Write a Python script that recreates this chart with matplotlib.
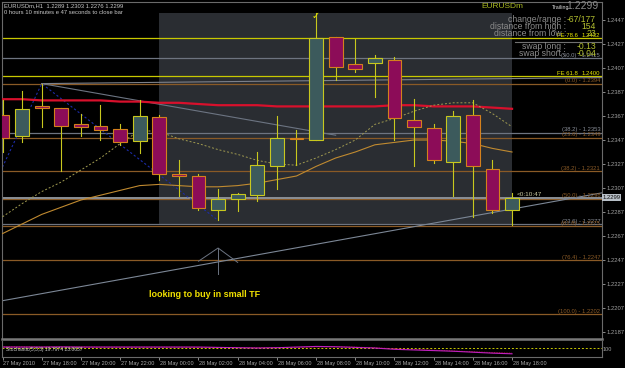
import numpy as np
import matplotlib.pyplot as plt
from matplotlib.patches import Rectangle
from matplotlib.transforms import blended_transform_factory

plt.rcParams['font.family'] = ['Liberation Sans', 'DejaVu Sans']

# hourly candles, 27 May 16:00 -> 28 May 18:00
opens  = [1.2368, 1.2350, 1.2375, 1.2374, 1.2360, 1.2359, 1.2356, 1.2346, 1.2366, 1.2319,
          1.2317, 1.2289, 1.2298, 1.2301, 1.2325, 1.2349, 1.2347, 1.2433, 1.2410, 1.2411,
          1.2414, 1.2364, 1.2357, 1.2329, 1.2368, 1.2323, 1.2289]
highs  = [1.2380, 1.2388, 1.2394, 1.2374, 1.2369, 1.2376, 1.2360, 1.2380, 1.2368, 1.2330,
          1.2319, 1.2306, 1.2303, 1.2337, 1.2367, 1.2355, 1.2453, 1.2433, 1.2431, 1.2418,
          1.2416, 1.2381, 1.2360, 1.2371, 1.2380, 1.2330, 1.2303]
lows   = [1.2337, 1.2345, 1.2358, 1.2321, 1.2350, 1.2347, 1.2343, 1.2336, 1.2314, 1.2300,
          1.2289, 1.2280, 1.2288, 1.2296, 1.2306, 1.2326, 1.2347, 1.2397, 1.2404, 1.2383,
          1.2347, 1.2325, 1.2328, 1.2300, 1.2283, 1.2286, 1.2276]
closes = [1.2349, 1.2373, 1.2374, 1.2359, 1.2358, 1.2355, 1.2345, 1.2367, 1.2319, 1.2317,
          1.2290, 1.2298, 1.2302, 1.2326, 1.2349, 1.2348, 1.2432, 1.2408, 1.2406, 1.2415,
          1.2365, 1.2358, 1.2330, 1.2367, 1.2325, 1.2289, 1.2299]

# moving averages
ma_red = [1.2381, 1.2381, 1.2380, 1.2380, 1.2380, 1.2380, 1.2379, 1.2379, 1.2378, 1.2378,
          1.2377, 1.2376, 1.2376, 1.2376, 1.2375, 1.2375, 1.2375, 1.2375, 1.2375, 1.2375,
          1.2376, 1.2376, 1.2375, 1.2375, 1.2375, 1.2374, 1.2373]
ma_fast = [1.2283, 1.2294, 1.2304, 1.2312, 1.2322, 1.2332, 1.2344, 1.2355, 1.2354, 1.2348,
           1.2344, 1.2339, 1.2335, 1.2330, 1.2327, 1.2326, 1.2332, 1.2339, 1.2347, 1.2360,
           1.2365, 1.2371, 1.2376, 1.2378, 1.2378, 1.2369, 1.2358]
ma_slow = [1.2269, 1.2277, 1.2285, 1.2291, 1.2297, 1.2301, 1.2305, 1.2309, 1.2310, 1.2309,
           1.2308, 1.2308, 1.2309, 1.2311, 1.2314, 1.2317, 1.2325, 1.2332, 1.2337, 1.2343,
           1.2345, 1.2347, 1.2347, 1.2346, 1.2344, 1.2340, 1.2337]

# day high / low box
box_x = [8, 26]
box_y = [1.2276, 1.2453]

# fibo / projection levels: price, colour, label
levels = [
    (1.2432, '#c8c800', None),
    (1.2415, '#6e7480', '(50.0) - 1.2415'),
    (1.2400, '#c8c800', None),
    (1.2394, '#8a5a26', '(0.0) - 1.2394'),
    (1.2353, '#6e7480', '(38.2) - 1.2353'),
    (1.2349, '#8a5a26', '(23.6) - 1.2349'),
    (1.2321, '#8a5a26', '(38.2) - 1.2321'),
    (1.2298, '#8a5a26', '(50.0) - 1.2298'),
    (1.2277, '#6e7480', '(23.6) - 1.2277'),
    (1.2275, '#8a5a26', '(61.8) - 1.2275'),
    (1.2247, '#8a5a26', '(76.4) - 1.2247'),
    (1.2202, '#8a5a26', '(100.0) - 1.2202'),
]
fe_levels = [(1.2432, 'FE 78.6', '1.2432'), (1.2400, 'FE 61.8', '1.2400')]

# trend lines (x in bars, y in price)
up_trend_x, up_trend_y = [-0.03, 30.6], [1.2213, 1.2303]
down_trend_x, down_trend_y = [2, 17], [1.2394, 1.2351]
flat_trend_x, flat_trend_y = [2, 30.6], [1.2394, 1.2399]
zigzag_x, zigzag_y = [-0.1, 2, 11], [1.2321, 1.2394, 1.2280]
marker_x, marker_y = [10.0, 11.0, 12.0], [1.2246, 1.2257, 1.2245]
marker_stem = [1.2257, 1.2235]

price_ticks = [1.2447, 1.2427, 1.2407, 1.2387, 1.2367, 1.2347, 1.2327, 1.2307,
               1.2287, 1.2267, 1.2247, 1.2227, 1.2207, 1.2187]
time_labels = ['27 May 2010', '27 May 18:00', '27 May 20:00', '27 May 22:00',
               '28 May 00:00', '28 May 02:00', '28 May 04:00', '28 May 06:00',
               '28 May 08:00', '28 May 10:00', '28 May 12:00', '28 May 14:00',
               '28 May 16:00', '28 May 18:00']

info_labels = ['change/range :', 'distance from high :', 'distance from low :',
               'swap long :', 'swap short :']
info_values = ['-67/177', '154', '23', '-0.13', '-0.04']

# indicator sub-window lines
stoch_main = [62, 62, 62, 63, 62, 62, 62, 62, 62, 62, 62, 60, 58, 56, 58, 62, 66, 64,
              60, 56, 48, 44, 40, 36, 30, 24, 20]
stoch_sig = [64, 64, 63, 63, 63, 62, 62, 62, 62, 62, 61, 60, 59, 58, 59, 61, 63, 64,
             62, 58, 52, 47, 43, 38, 33, 28, 24]

bg = '#000000'
fig = plt.figure(figsize=(6.25, 3.68), dpi=100, facecolor=bg)
ax = fig.add_axes([2 / 625, 1 - 339 / 368, 600 / 625, 337 / 368], facecolor=bg)
ax.set_xlim(-0.026, 30.59)
ax.set_ylim(1.218117, 1.2462)

# shaded box of the day range
ax.add_patch(Rectangle((box_x[0], box_y[0]), box_x[1] - box_x[0], box_y[1] - box_y[0],
                       facecolor='#2a2d32', edgecolor='none', zorder=0))

for price, col, lab in levels:
    ax.axhline(price, color=col, lw=0.9, zorder=1)
    if lab:
        ax.text(30.5, price + 0.00003, lab, color=col if col != '#6e7480' else '#8a8f99',
                fontsize=4.2, ha='right', va='bottom', zorder=6)
for price, name, val in fe_levels:
    ax.text(28.3, price + 0.00003, name, color='#e6e600', fontsize=4.3, ha='left', va='bottom', zorder=7)
    ax.text(30.5, price + 0.00003, val, color='#e6e600', fontsize=4.3, ha='right', va='bottom', zorder=7)

# bid line
ax.axhline(closes[-1], color='#8c9096', lw=1.4, zorder=1)

ax.plot(up_trend_x, up_trend_y, color='#7c8796', lw=0.8, zorder=2)
ax.plot(down_trend_x, down_trend_y, color='#6c7482', lw=0.8, zorder=2)
ax.plot(flat_trend_x, flat_trend_y, color='#7c808a', lw=0.8, zorder=2)
ax.plot(zigzag_x, zigzag_y, color='#1c2ca8', lw=0.8, ls=(0, (2, 2)), zorder=2)
ax.plot(marker_x, marker_y, color='#6c7482', lw=0.7, zorder=2)
ax.plot([marker_x[1]] * 2, marker_stem, color='#6c7482', lw=0.7, zorder=2)

bars = np.arange(len(closes))
ax.plot(bars, ma_red, color='#d8102c', lw=1.6, zorder=3)
ax.plot(bars, ma_fast, color='#a09a50', lw=0.7, ls=(0, (2, 2)), zorder=3)
ax.plot(bars, ma_slow, color='#c08a30', lw=0.8, zorder=3)

# candles
w = 0.7
for i in bars:
    o, h, l, c = opens[i], highs[i], lows[i], closes[i]
    bull = c >= o
    ax.plot([i, i], [l, h], color='#c8c81e', lw=0.8, zorder=4)
    face = '#3c5a5c' if bull else '#8c0c58'
    edge = '#c8c81e' if bull else '#d4801c'
    ax.add_patch(Rectangle((i - w / 2, min(o, c)), w, max(abs(c - o), 0.00003),
                           facecolor=face, edgecolor=edge, lw=0.8, zorder=5))

ax.text(16, 1.2450, '\u2713', color='#e6e600', fontsize=7, ha='center', va='center',
        family='DejaVu Sans', zorder=6)
ax.text(26.25, closes[-1] + 0.00002, '<0:10:47', color='#c8c8a0', fontsize=4.6,
        ha='left', va='bottom', zorder=6)
ax.text(7.5, 1.2218, 'looking to buy in small TF', color='#f0e000', fontsize=6.5,
        fontweight='bold', ha='left', va='center', zorder=6)

# header texts
fig.text(4 / 625, 1 - 6 / 368, 'EURUSDm,H1  1.2289 1.2303 1.2276 1.2299', color='#c8c8c8',
         fontsize=4.2, ha='left', va='center')
fig.text(4 / 625, 1 - 13 / 368, '0 hours 10 minutes e 47 seconds to close bar', color='#c8c8c8',
         fontsize=4.2, ha='left', va='center')
fig.text(502 / 625, 1 - 7 / 368, 'EURUSDm', color='#a8b820', fontsize=6, ha='center', va='center')
fig.text(552 / 625, 1 - 7 / 368, 'Trailing', color='#e0e0e0', fontsize=3.8, ha='left', va='center')
fig.text(598 / 625, 1 - 6 / 368, '1.2299', color='#8a8a8a', fontsize=7.5, ha='right', va='center')
info_y = [19.3, 26.5, 33.7, 46.3, 53.5]
for lab, val, yy in zip(info_labels, info_values, info_y):
    fig.text(566 / 625, 1 - yy / 368, lab, color='#8c8c8c', fontsize=6.2, ha='right', va='center')
    fig.text(596 / 625, 1 - yy / 368, val, color='#b4c030', fontsize=6.2, ha='right', va='center')
fig.add_artist(plt.Line2D([515 / 625, 601 / 625], [1 - 41.7 / 368] * 2, color='#707070', lw=0.8))

# price axis
ax.yaxis.tick_right()
ax.set_yticks(price_ticks)
ax.set_yticklabels(['%.4f' % p for p in price_ticks])
ax.tick_params(axis='y', right=True, left=False, length=2, width=0.6, pad=1,
               labelsize=4.2, colors='#a0a0a0')
ax.set_xticks([])
ax.text(30.62, closes[-1], '%.4f' % closes[-1], transform=ax.transData, color='#101010',
        fontsize=4.2, ha='left', va='center',
        bbox=dict(boxstyle='square,pad=0.15', facecolor='#b8c0c8', edgecolor='none'), clip_on=False)
for s in ax.spines.values():
    s.set_color('#6a6a6a')
    s.set_linewidth(0.8)
ax.spines['bottom'].set_linewidth(1.8)
ax.spines['bottom'].set_color('#787878')

# indicator window
ax2 = fig.add_axes([2 / 625, 1 - 357 / 368, 600 / 625, 16 / 368], facecolor=bg, sharex=ax)
ax2.set_ylim(0, 100)
ax2.axhline(55, color='#c8c800', lw=0.7, ls=(0, (2, 2)))
ax2.plot(bars, stoch_sig, color='#d01040', lw=0.6, ls=(0, (1, 1)))
ax2.plot(bars, stoch_main, color='#c020c0', lw=0.8)
ax2.text(0.2, 45, 'Stochastic(5,3,3) 19.7974 23.0637', color='#c8c8c8', fontsize=3.6,
         ha='left', va='center')
ax2.set_yticks([])
ax2.set_xticks(np.arange(0, 27, 2))
ax2.set_xticklabels([])
ax2.tick_params(axis='x', length=2, width=0.6, colors='#a0a0a0')
for s in ax2.spines.values():
    s.set_color('#6a6a6a')
    s.set_linewidth(0.8)
ax2.spines['top'].set_visible(False)
ax2.text(30.62, 45, '100', color='#a0a0a0', fontsize=4, ha='left', va='center', clip_on=False)
tr = blended_transform_factory(ax2.transData, fig.transFigure)
for k, lab in enumerate(time_labels):
    ax2.text(2 * k + 0.05, 1 - 363 / 368, lab, transform=tr, color='#a8a8a8',
             fontsize=4.0, ha='left', va='center')

fig.savefig('out.png', dpi=100, facecolor=bg)
